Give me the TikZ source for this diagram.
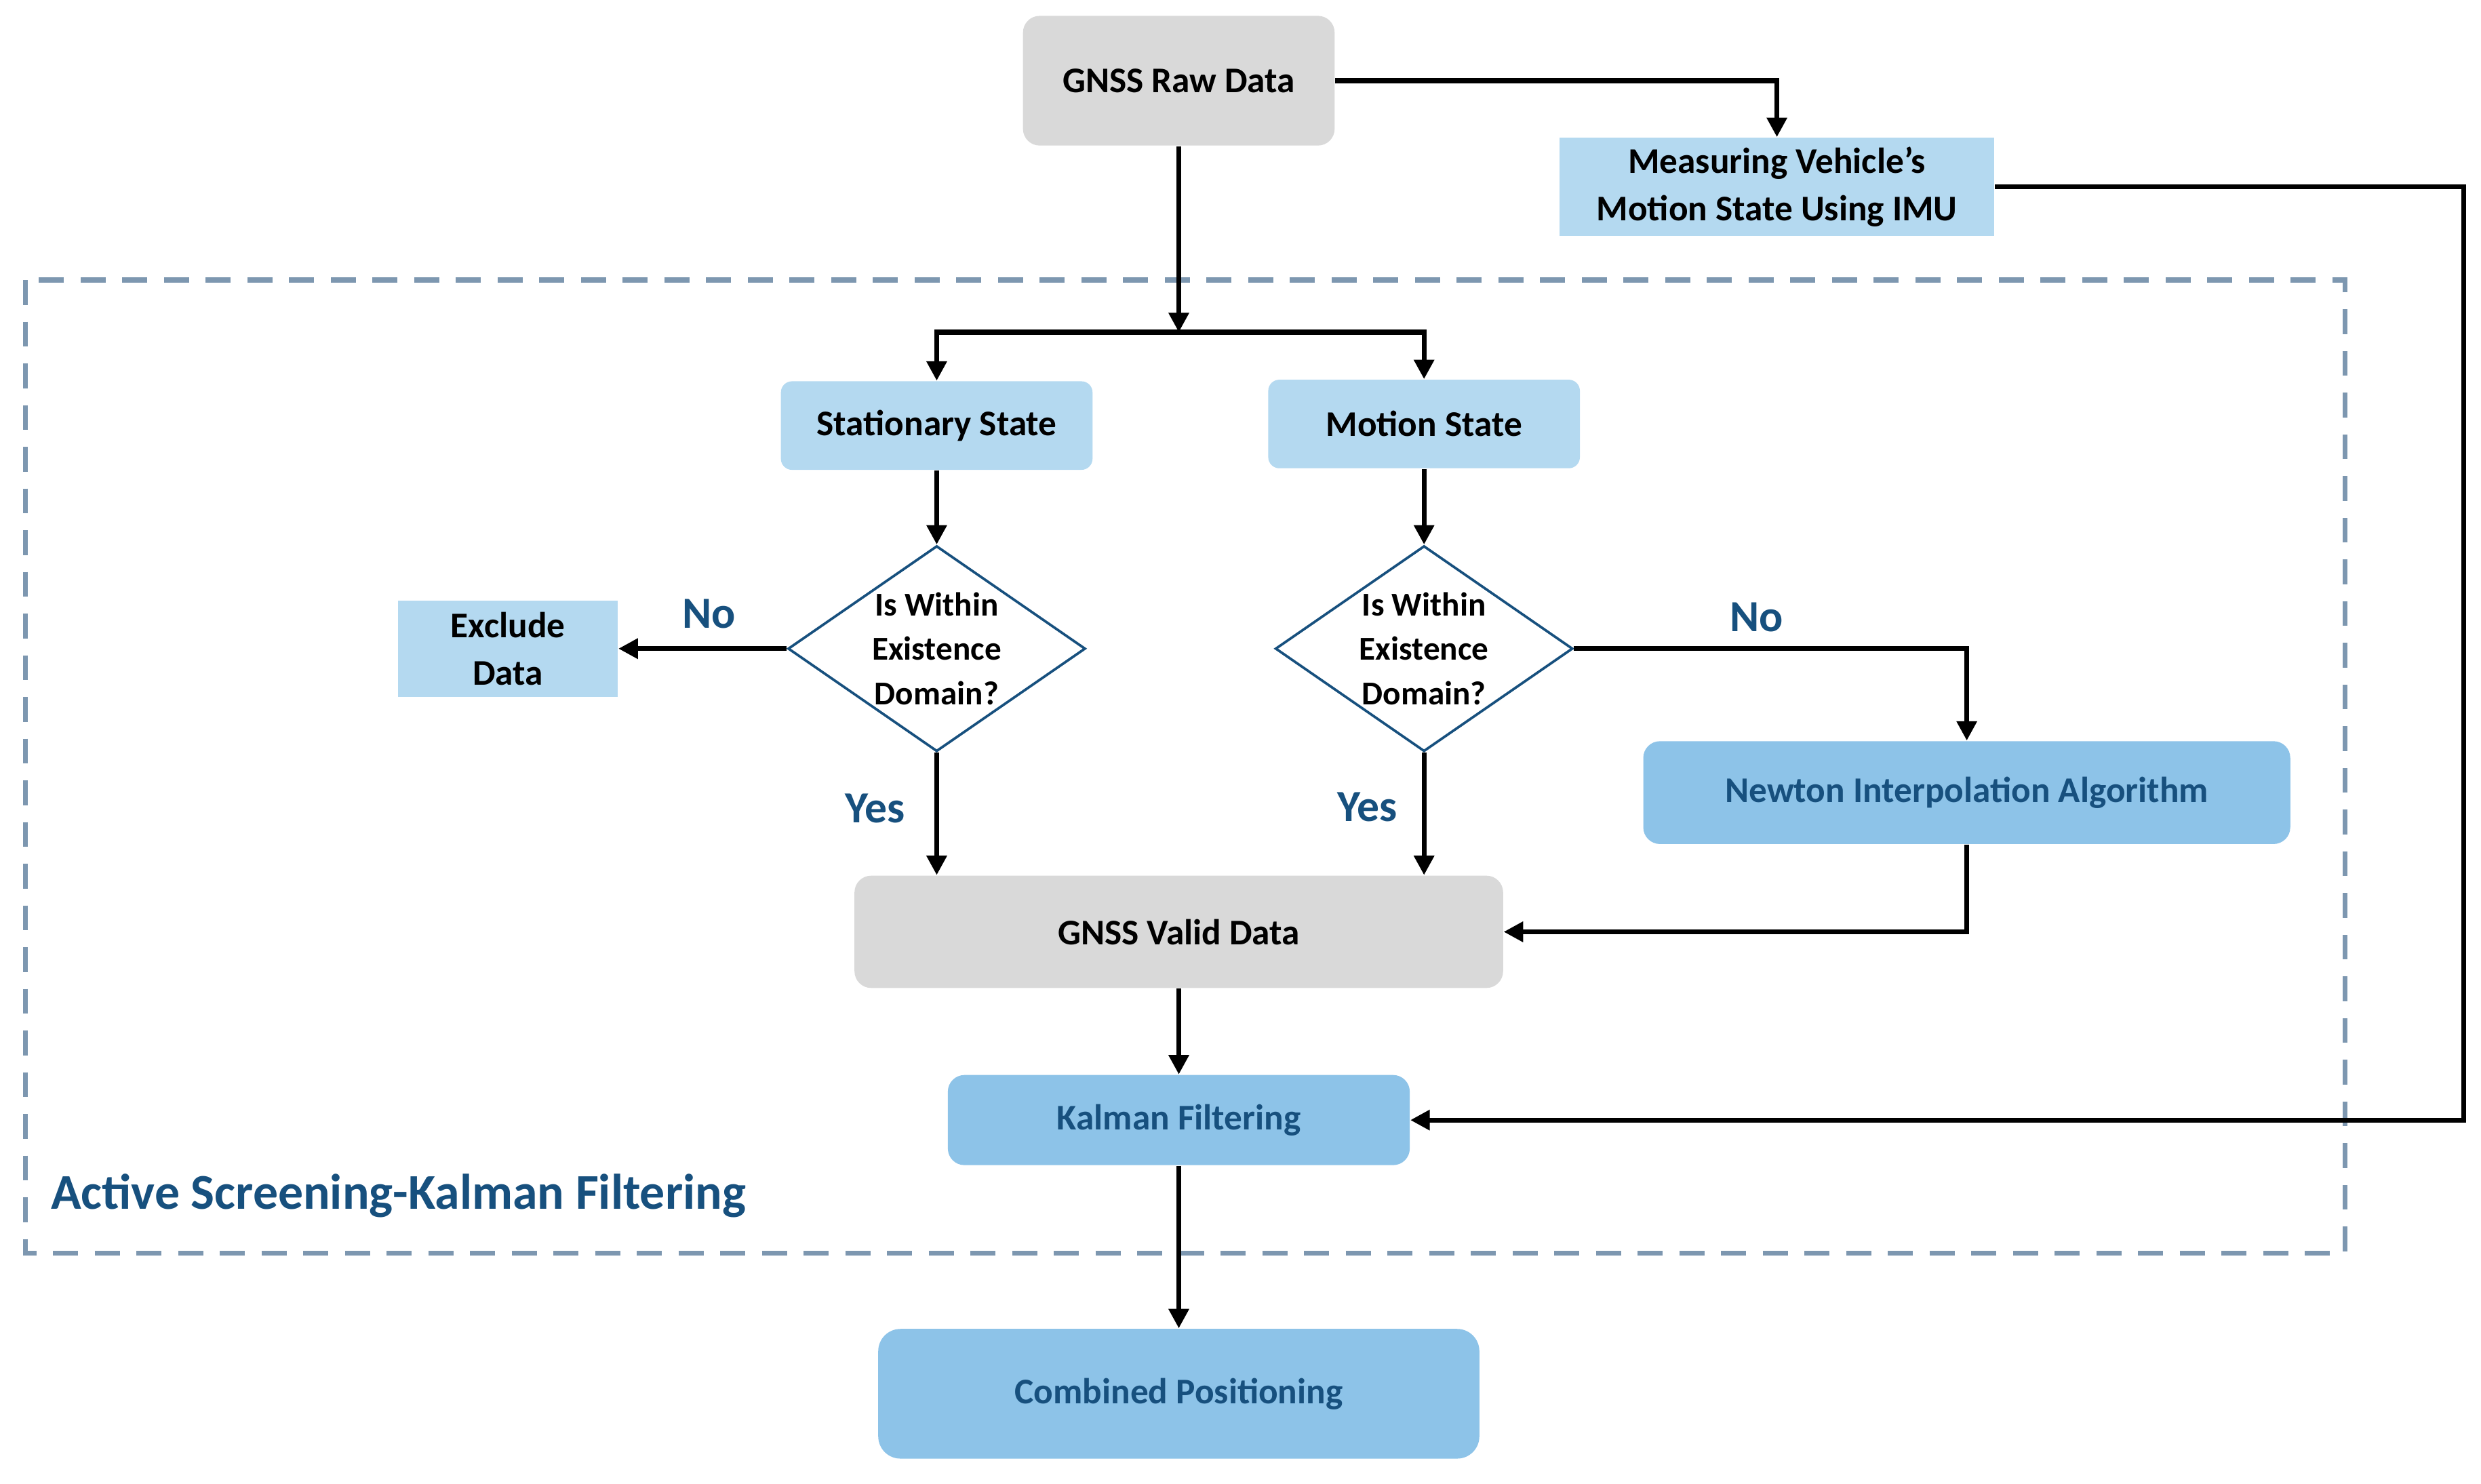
\documentclass[tikz,border=0pt]{standalone}
\usepackage{fontspec}
\setmainfont{Carlito}
\usetikzlibrary{shapes.geometric,arrows.meta}
\definecolor{boxgray}{HTML}{D9D9D9}
\definecolor{lightblue}{HTML}{B4D9F0}
\definecolor{midblue}{HTML}{8DC3E8}
\definecolor{textblue}{HTML}{17507E}
\definecolor{dashblue}{HTML}{7D97B0}
\tikzset{
    box/.style={inner sep=2pt, align=center, font=\fontsize{13}{17}\selectfont\bfseries},
    graybox/.style={box, fill=boxgray, rounded corners=6pt},
    stepbox/.style={box, fill=lightblue},
    algobox/.style={box, fill=midblue, rounded corners=6pt, text=textblue},
    check/.style={box, diamond, draw=textblue, line width=0.9pt, fill=white, inner sep=0pt,
        aspect=1.45, minimum width=3.76cm, minimum height=2.6cm, font=\fontsize{12}{16}\selectfont\bfseries},
    answer/.style={font=\fontsize{16}{18}\selectfont\bfseries, text=textblue},
    flow/.style={-{Triangle[length=7pt,width=7pt]}, line width=1.8pt},
}
\begin{document}
\begin{tikzpicture}[x=0.02cm, y=-0.02cm]
    \useasboundingbox (0,0) rectangle (1568,938);

    \draw[dashblue, line width=1.8pt, dash pattern=on 9pt off 6pt] (16,177) rectangle (1482,792);
    \node[anchor=west, font=\fontsize{18}{20}\selectfont\bfseries, text=textblue] (title) at (26,756) {Active Screening-Kalman Filtering};

    \node[graybox, minimum width=3.94cm, minimum height=1.64cm] (raw) at (745,51) {GNSS Raw Data};
    \node[stepbox, minimum width=5.5cm, minimum height=1.24cm] (imu) at (1123,118) {Measuring Vehicle's\\Motion State Using IMU};

    \node[stepbox, rounded corners=4pt, minimum width=3.94cm, minimum height=1.12cm] (stat) at (592,269) {Stationary State};
    \node[stepbox, rounded corners=4pt, minimum width=3.94cm, minimum height=1.12cm] (motion) at (900,268) {Motion State};

    \node[check] (d1) at (592,410) {Is Within\\Existence\\Domain?};
    \node[check] (d2) at (900,410) {Is Within\\Existence\\Domain?};

    \node[stepbox, minimum width=2.78cm, minimum height=1.22cm] (excl) at (321,410) {Exclude\\Data};
    \node[algobox, minimum width=8.18cm, minimum height=1.3cm] (newton) at (1243,501) {Newton Interpolation Algorithm};
    \node[graybox, minimum width=8.2cm, minimum height=1.42cm] (valid) at (745,589) {GNSS Valid Data};
    \node[algobox, minimum width=5.84cm, minimum height=1.14cm] (kalman) at (745,708) {Kalman Filtering};
    \node[algobox, rounded corners=8pt, minimum width=7.6cm, minimum height=1.64cm] (comb) at (745,881) {Combined Positioning};

    \node[answer] (no1) at (448,388) {No};
    \node[answer] (no2) at (1110,390) {No};
    \node[answer] (yes1) at (553,511) {Yes};
    \node[answer] (yes2) at (864,510) {Yes};

    \coordinate (split) at (745,210);
    \coordinate (imuturn) at (1557,118);

    \draw[flow] (raw) -- (split);
    \draw[flow] (split) -| (stat);
    \draw[flow] (split) -| (motion);
    \draw[flow] (raw) -| (imu);
    \draw[flow] (imu) -- (imuturn) |- (kalman);

    \draw[flow] (stat) -- (d1);
    \draw[flow] (motion) -- (d2);
    \draw[flow] (d1) -- (excl);
    \draw[flow] (d1.south) -- (d1.south |- valid.north);
    \draw[flow] (d2.south) -- (d2.south |- valid.north);
    \draw[flow] (d2) -| (newton);
    \draw[flow] (newton) |- (valid);

    \draw[flow] (valid) -- (kalman);
    \draw[flow] (kalman) -- (comb);
\end{tikzpicture}
\end{document}
